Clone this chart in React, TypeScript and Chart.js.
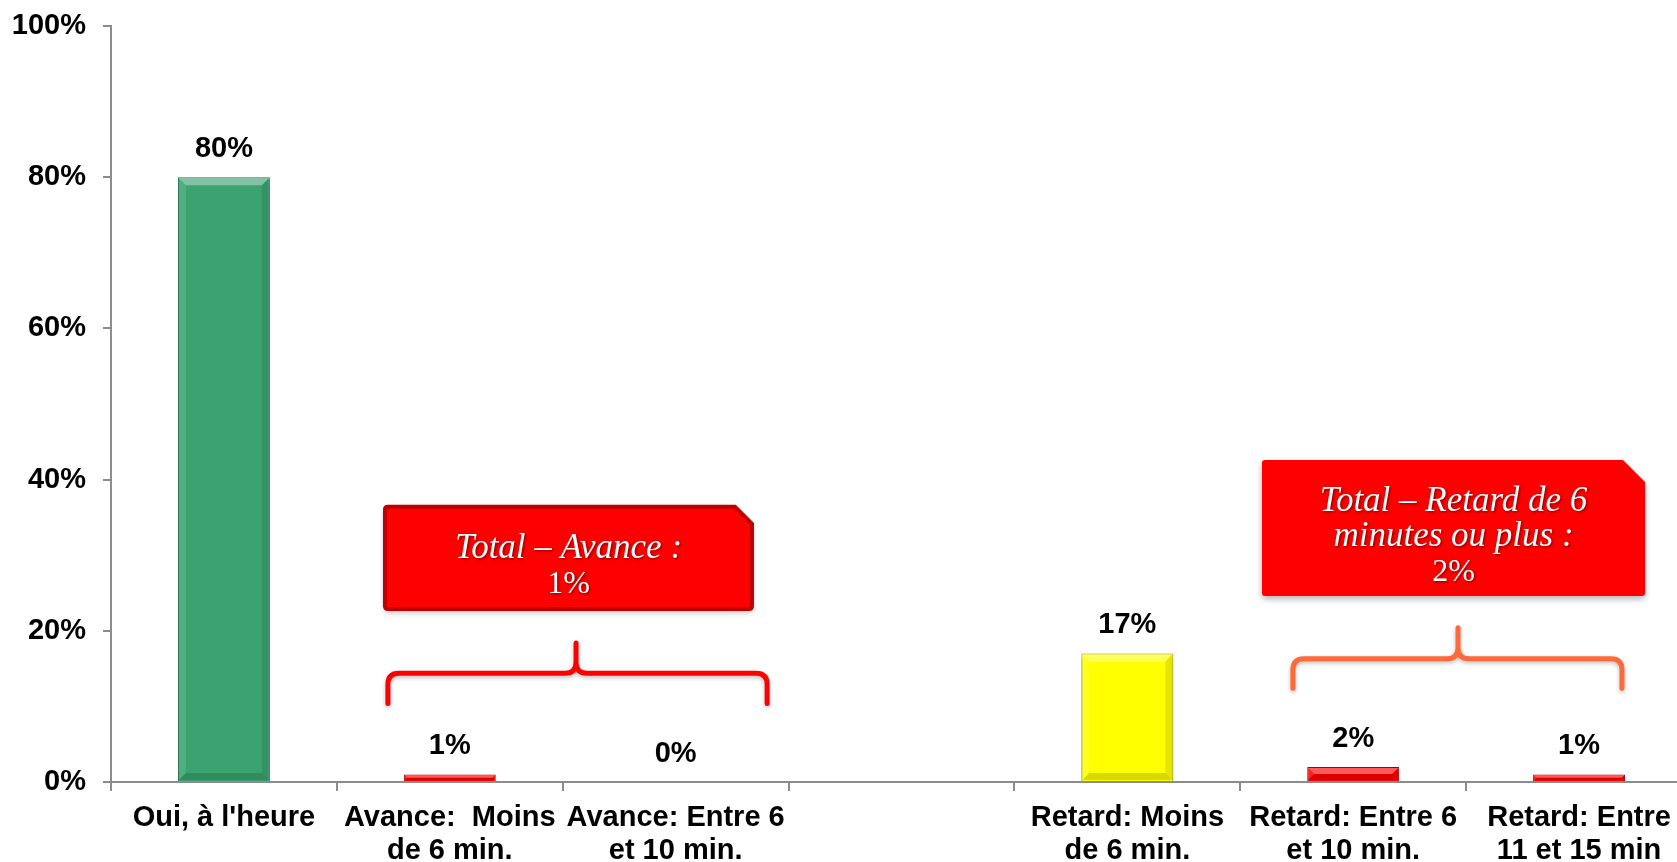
import React, { useEffect, useRef } from "react";
import { Chart, registerables } from "chart.js";

Chart.register(...registerables);

const categories: (string | string[])[] = [
  "Oui, à l'heure",
  ["Avance:  Moins", "de 6 min."],
  ["Avance: Entre 6", "et 10 min."],
  "",
  ["Retard: Moins", "de 6 min."],
  ["Retard: Entre 6", "et 10 min."],
  ["Retard: Entre", "11 et 15 min"],
];
const values: (number | null)[] = [80, 1, 0, null, 17, 2, 1];
const barColors = ["#3BA370", "#FF0000", "#FF0000", "#FFFFFF", "#FFFF00", "#FF0000", "#FF0000"];
const barBorders = ["#2C8557", "#B00000", "#B00000", "#FFFFFF", "#A8A800", "#B00000", "#B00000"];
const yMax = 100;
const yStep = 20;

const calloutTitles = [["Total – Avance :"], ["Total – Retard de 6", "minutes ou plus :"]];
const calloutValues = ["1%", "2%"];
// positions in category-index units (x) and axis value units (y)
const calloutX0 = [0.713, 4.596];
const calloutX1 = [2.338, 6.292];
const calloutTop = [36.4, 42.6];
const calloutBottom = [22.9, 24.6];
const calloutStroke = ["#C00000", ""];

const braceX0 = [0.726, 4.733];
const braceX1 = [2.405, 6.19];
const braceMid = [1.559, 5.464];
const braceFoot = [10.4, 12.4];
const braceBar = [14.4, 16.3];
const bracePeak = [18.4, 20.4];
const braceColor = ["#FF0000", "#FF6A3D"];

const barFx = {
  id: "barFx",
  beforeDatasetsDraw(chart: any) {
    const ctx = chart.ctx;
    ctx.save();
    ctx.shadowColor = "rgba(0,0,0,0.35)";
    ctx.shadowBlur = 8;
    ctx.shadowOffsetX = 0;
    ctx.shadowOffsetY = 4;
  },
  afterDatasetsDraw(chart: any) {
    const ctx = chart.ctx;
    ctx.restore();
    const meta = chart.getDatasetMeta(0);
    meta.data.forEach((bar: any, i: number) => {
      const v = values[i];
      if (v === null) return;
      const { x, y, base, width } = bar.getProps(["x", "y", "base", "width"], true);
      const l = x - width / 2, r = x + width / 2, t = y, b = base;
      const h = b - t;
      if (h > 1) {
        const bv = Math.min(8, h / 2);
        ctx.save();
        ctx.fillStyle = "rgba(255,255,255,0.35)";
        ctx.beginPath();
        ctx.moveTo(l + 1, t + 1); ctx.lineTo(r - 1, t + 1); ctx.lineTo(r - bv, t + bv); ctx.lineTo(l + bv, t + bv); ctx.closePath(); ctx.fill();
        ctx.fillStyle = "rgba(255,255,255,0.12)";
        ctx.beginPath();
        ctx.moveTo(l + 1, t + 1); ctx.lineTo(l + bv, t + bv); ctx.lineTo(l + bv, b - bv); ctx.lineTo(l + 1, b - 1); ctx.closePath(); ctx.fill();
        ctx.fillStyle = "rgba(0,0,0,0.10)";
        ctx.beginPath();
        ctx.moveTo(r - 1, t + 1); ctx.lineTo(r - bv, t + bv); ctx.lineTo(r - bv, b - bv); ctx.lineTo(r - 1, b - 1); ctx.closePath(); ctx.fill();
        ctx.fillStyle = "rgba(0,0,0,0.15)";
        ctx.beginPath();
        ctx.moveTo(l + 1, b - 1); ctx.lineTo(l + bv, b - bv); ctx.lineTo(r - bv, b - bv); ctx.lineTo(r - 1, b - 1); ctx.closePath(); ctx.fill();
        ctx.restore();
      }
      ctx.save();
      ctx.fillStyle = "#000";
      ctx.font = "bold 29px 'Liberation Sans', Arial, sans-serif";
      ctx.textAlign = "center";
      ctx.textBaseline = "middle";
      ctx.fillText(`${v}%`, x, t - 28);
      ctx.restore();
    });
  },
};

const annotations = {
  id: "annotations",
  afterDraw(chart: any) {
    const ctx = chart.ctx;
    const xs = chart.scales.x;
    const ys = chart.scales.y;
    // braces
    for (let i = 0; i < braceX0.length; i++) {
      const L = xs.getPixelForValue(braceX0[i]);
      const R = xs.getPixelForValue(braceX1[i]);
      const M = xs.getPixelForValue(braceMid[i]);
      const foot = ys.getPixelForValue(braceFoot[i]);
      const bar = ys.getPixelForValue(braceBar[i]);
      const peak = ys.getPixelForValue(bracePeak[i]);
      const rr = 11;
      ctx.save();
      ctx.strokeStyle = braceColor[i];
      ctx.lineWidth = 5;
      ctx.lineCap = "round";
      ctx.lineJoin = "round";
      ctx.shadowColor = "rgba(0,0,0,0.25)";
      ctx.shadowBlur = 4;
      ctx.shadowOffsetY = 2;
      ctx.beginPath();
      ctx.moveTo(L, foot);
      ctx.lineTo(L, bar + rr);
      ctx.quadraticCurveTo(L, bar, L + rr, bar);
      ctx.lineTo(M - rr, bar);
      ctx.quadraticCurveTo(M, bar, M, bar - rr);
      ctx.lineTo(M, peak);
      ctx.moveTo(M, bar - rr);
      ctx.quadraticCurveTo(M, bar, M + rr, bar);
      ctx.lineTo(R - rr, bar);
      ctx.quadraticCurveTo(R, bar, R, bar + rr);
      ctx.lineTo(R, foot);
      ctx.stroke();
      ctx.restore();
    }
    // callout boxes
    for (let i = 0; i < calloutTitles.length; i++) {
      const L = xs.getPixelForValue(calloutX0[i]);
      const R = xs.getPixelForValue(calloutX1[i]);
      const T = ys.getPixelForValue(calloutTop[i]);
      const B = ys.getPixelForValue(calloutBottom[i]);
      const cut = i === 0 ? 17 : 22;
      const rad = 3;
      ctx.save();
      ctx.shadowColor = "rgba(0,0,0,0.3)";
      ctx.shadowBlur = 6;
      ctx.shadowOffsetY = 3;
      ctx.beginPath();
      ctx.moveTo(L + rad, T);
      ctx.lineTo(R - cut, T);
      ctx.lineTo(R, T + cut);
      ctx.lineTo(R, B - rad);
      ctx.quadraticCurveTo(R, B, R - rad, B);
      ctx.lineTo(L + rad, B);
      ctx.quadraticCurveTo(L, B, L, B - rad);
      ctx.lineTo(L, T + rad);
      ctx.quadraticCurveTo(L, T, L + rad, T);
      ctx.closePath();
      ctx.fillStyle = "#FF0000";
      ctx.fill();
      ctx.shadowColor = "transparent";
      if (calloutStroke[i]) {
        ctx.strokeStyle = calloutStroke[i];
        ctx.lineWidth = 4;
        ctx.stroke();
      }
      const lines = calloutTitles[i];
      const n = lines.length + 1;
      const cx = (L + R) / 2;
      const cy = (T + B) / 2;
      const lh = 35;
      let yy = cy - ((n - 1) * lh) / 2 + 18;
      ctx.fillStyle = "#FFFFFF";
      ctx.textAlign = "center";
      ctx.textBaseline = "alphabetic";
      ctx.shadowColor = "rgba(90,0,0,0.8)";
      ctx.shadowBlur = 3;
      ctx.shadowOffsetX = 1;
      ctx.shadowOffsetY = 1;
      ctx.font = "italic 35px 'Liberation Serif', 'Times New Roman', serif";
      for (const ln of lines) {
        ctx.fillText(ln, cx, yy);
        yy += lh;
      }
      ctx.font = "32px 'Liberation Serif', 'Times New Roman', serif";
      ctx.fillText(calloutValues[i], cx, yy);
      ctx.restore();
    }
  },
};

export default function App() {
  const ref = useRef<HTMLCanvasElement | null>(null);
  useEffect(() => {
    if (!ref.current) return;
    const axisColor = "#8C8C8C";
    const chart = new Chart(ref.current, {
      type: "bar",
      data: {
        labels: categories,
        datasets: [
          {
            data: values as any,
            backgroundColor: barColors,
            borderColor: barBorders,
            borderWidth: (c: any) => (c.raw ? 1 : 0),
            barPercentage: 0.407,
            categoryPercentage: 1,
          },
        ],
      },
      options: {
        responsive: false,
        animation: false,
        layout: { padding: { left: 0, right: 16, top: 18, bottom: 0 } },
        plugins: { legend: { display: false }, tooltip: { enabled: false }, title: { display: false } },
        scales: {
          x: {
            grid: { drawOnChartArea: false, drawTicks: true, tickLength: 9, color: axisColor, lineWidth: 2 },
            border: { color: axisColor, width: 2 },
            ticks: {
              color: "#000",
              padding: 10,
              maxRotation: 0,
              autoSkip: false,
              font: { family: "'Liberation Sans', Arial, sans-serif", size: 29, weight: "bold", lineHeight: 1.14 },
            },
            afterFit: (s: any) => {
              s.height = 106;
              s.paddingLeft = 0;
              s.paddingRight = 0;
            },
          },
          y: {
            min: 0,
            max: yMax,
            grid: { drawOnChartArea: false, drawTicks: true, tickLength: 8, color: axisColor, lineWidth: 2 },
            border: { color: axisColor, width: 2 },
            ticks: {
              stepSize: yStep,
              color: "#000",
              padding: 17,
              callback: (v: any) => `${v}%`,
              font: { family: "'Liberation Sans', Arial, sans-serif", size: 29, weight: "bold" },
            },
            afterFit: (s: any) => {
              s.width = 103;
              s.paddingTop = 0;
              s.paddingBottom = 0;
            },
          },
        },
      },
      plugins: [barFx, annotations],
    });
    return () => chart.destroy();
  }, []);
  return (
    <div style={{ position: "fixed", left: 8, top: 8, width: 1669, height: 854, overflow: "hidden", background: "#fff" }}>
      <canvas ref={ref} width={1700} height={880} style={{ display: "block" }} />
    </div>
  );
}
